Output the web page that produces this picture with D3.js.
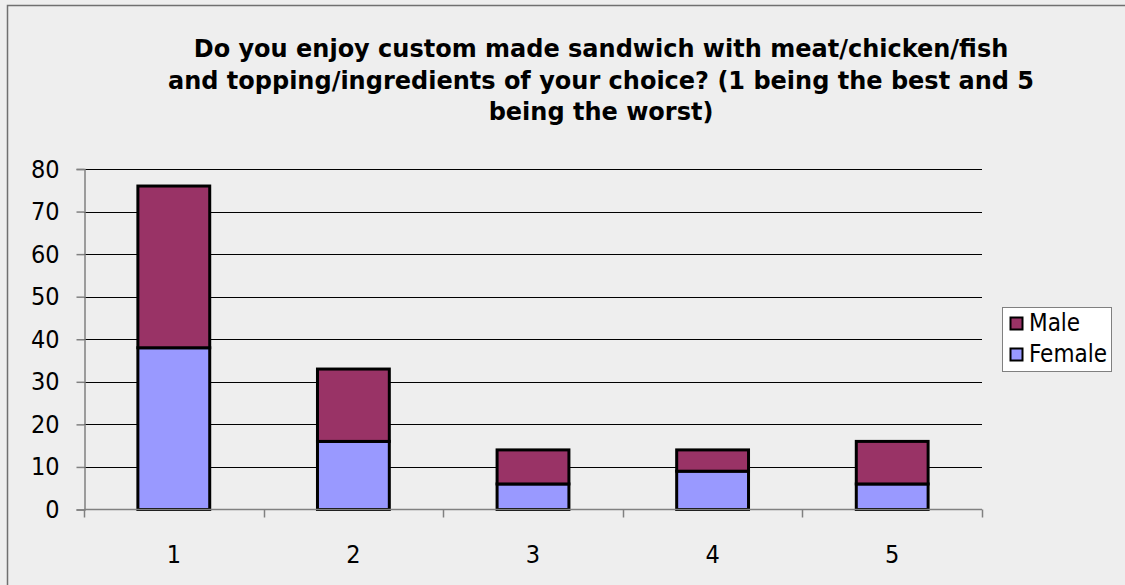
<!DOCTYPE html>
<html>
<head>
<meta charset="utf-8">
<script src="https://cdn.jsdelivr.net/npm/d3@7"></script>
<style>
  html, body { margin: 0; padding: 0; background: #eeeeee; }
  svg { display: block; }
  text { font-family: "DejaVu Sans Condensed", "DejaVu Sans", sans-serif; fill: #000; }
</style>
</head>
<body>
<svg id="chart" width="1125" height="585"></svg>
<script>
// Survey answers on a 1–5 scale, split by gender (stacked)
const categories = ["1", "2", "3", "4", "5"];
const female = [38, 16, 6, 9, 6];
const male = [38, 17, 8, 5, 10];
const seriesNames = ["Female", "Male"];
const yTicks = [0, 10, 20, 30, 40, 50, 60, 70, 80];
const titleLines = [
  "Do you enjoy custom made sandwich with meat/chicken/fish",
  "and topping/ingredients of your choice? (1 being the best and 5",
  "being the worst)"
];

const colors = { Female: "#9999ff", Male: "#993366" };

const svg = d3.select("#chart");

// outer frame
svg.append("rect")
  .attr("x", 7.5).attr("y", 5.5)
  .attr("width", 1130).attr("height", 600)
  .attr("fill", "#eeeeee").attr("stroke", "#707070").attr("stroke-width", 1.5);

const plot = { left: 84, right: 982, top: 169, bottom: 509.5 };

const x = d3.scaleBand()
  .domain(categories)
  .range([plot.left, plot.right])
  .paddingInner(0.6)
  .paddingOuter(0.3);

const y = d3.scaleLinear()
  .domain([0, 80])
  .range([plot.bottom, plot.top]);

// horizontal gridlines
svg.append("g")
  .selectAll("line")
  .data(yTicks.filter(d => d > 0))
  .join("line")
  .attr("x1", plot.left).attr("x2", plot.right)
  .attr("y1", d => Math.round(y(d)) + 0.5).attr("y2", d => Math.round(y(d)) + 0.5)
  .attr("stroke", "#000").attr("stroke-width", 1);

// stacked bars
const rows = categories.map((c, i) => ({ cat: c, Female: female[i], Male: male[i] }));
const stacked = d3.stack().keys(seriesNames)(rows);

svg.append("g")
  .selectAll("g")
  .data(stacked)
  .join("g")
  .attr("fill", d => colors[d.key])
  .selectAll("rect")
  .data(d => d)
  .join("rect")
  .attr("x", d => x(d.data.cat))
  .attr("y", d => y(d[1]))
  .attr("width", x.bandwidth())
  .attr("height", d => y(d[0]) - y(d[1]))
  .attr("stroke", "#000")
  .attr("stroke-width", 3);

// y axis
const yAxis = svg.append("g")
  .attr("transform", `translate(${plot.left + 0.5},0)`)
  .call(d3.axisLeft(y).tickValues(yTicks).tickSize(8).tickPadding(17));
yAxis.select(".domain").attr("stroke", "#808080").attr("stroke-width", 1.5);
yAxis.selectAll(".tick line").attr("stroke", "#808080").attr("stroke-width", 1.5);
yAxis.selectAll(".tick text")
  .style("font-size", "25px")
  .style("font-family", "'DejaVu Sans Condensed', 'DejaVu Sans', sans-serif")
  .attr("fill", "#000");

// x axis: ticks at category boundaries
const step = x.step();
const boundaries = d3.range(categories.length + 1).map(i => plot.left + i * step);
const xAxisG = svg.append("g");
xAxisG.append("line")
  .attr("x1", plot.left).attr("x2", plot.right)
  .attr("y1", plot.bottom).attr("y2", plot.bottom)
  .attr("stroke", "#808080").attr("stroke-width", 1.5);
xAxisG.selectAll("line.tick")
  .data(boundaries)
  .join("line")
  .attr("class", "tick")
  .attr("x1", d => Math.round(d) + 0.5).attr("x2", d => Math.round(d) + 0.5)
  .attr("y1", plot.bottom).attr("y2", plot.bottom + 8)
  .attr("stroke", "#808080").attr("stroke-width", 1.5);
xAxisG.selectAll("text")
  .data(categories)
  .join("text")
  .attr("x", d => x(d) + x.bandwidth() / 2)
  .attr("y", 563)
  .attr("text-anchor", "middle")
  .style("font-size", "25px")
  .text(d => d);

// title
svg.append("text")
  .attr("x", 601)
  .attr("text-anchor", "middle")
  .style("font-size", "24px")
  .style("font-weight", "bold")
  .style("font-family", "'DejaVu Sans', sans-serif")
  .selectAll("tspan")
  .data(titleLines)
  .join("tspan")
  .attr("x", 601)
  .attr("y", (d, i) => 57 + i * 31.5)
  .text(d => d);

// legend
const legend = svg.append("g");
legend.append("rect")
  .attr("x", 1002.5).attr("y", 307.5)
  .attr("width", 109).attr("height", 64)
  .attr("fill", "#ffffff").attr("stroke", "#808080").attr("stroke-width", 1);
const legendOrder = ["Male", "Female"];
const li = legend.selectAll("g.item")
  .data(legendOrder)
  .join("g")
  .attr("class", "item")
  .attr("transform", (d, i) => `translate(1010, ${317 + i * 31})`);
li.append("rect")
  .attr("x", 0.5).attr("y", 0.5)
  .attr("width", 12).attr("height", 12)
  .attr("fill", d => colors[d])
  .attr("stroke", "#000").attr("stroke-width", 2);
li.append("text")
  .attr("x", 19).attr("y", 14)
  .style("font-size", "24px")
  .text(d => d);
</script>
</body>
</html>
